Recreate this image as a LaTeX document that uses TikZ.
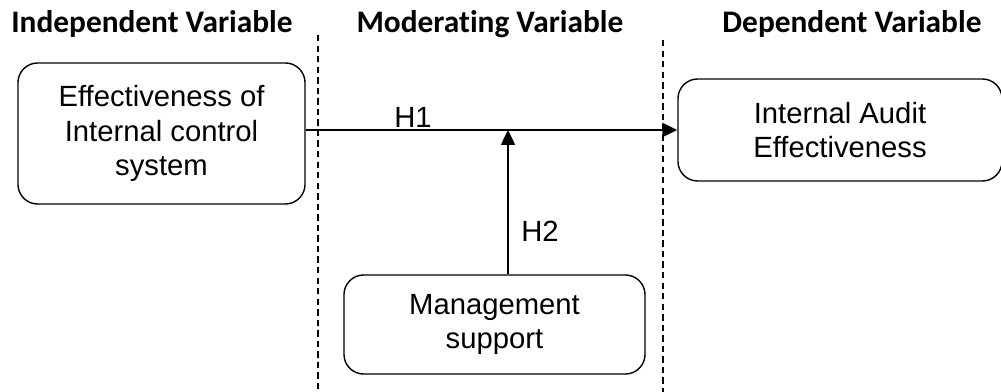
\documentclass[tikz,border=0pt]{standalone}
\usepackage{fontspec}
\setmainfont{Liberation Sans}
\newfontfamily\headfont[Ligatures=NoCommon]{Carlito}
\usetikzlibrary{arrows.meta}

\begin{document}
\begin{tikzpicture}[x=0.025cm,y=-0.025cm,
  varbox/.style={shape=rectangle,draw=black,line width=1pt,rounded corners=14pt,
    align=center,font=\fontsize{20.8}{24.8}\selectfont,inner sep=0pt},
  colhead/.style={anchor=base,font=\headfont\bfseries\fontsize{22.3}{26}\selectfont},
  hyp/.style={anchor=base,font=\fontsize{20.8}{24.8}\selectfont},
  divider/.style={line width=1.1pt,dash pattern=on 4.5pt off 3pt},
  link/.style={line width=1pt,-{Triangle[length=10.5pt,width=10pt]}}]
 \useasboundingbox (0,0) rectangle (1001,392);
 % column headings
 \node (head ind) at (152,33) [colhead] {Independent Variable};
 \node (head mod) at (490,33) [colhead] {Moderating Variable};
 \node (head dep) at (852,33) [colhead] {Dependent Variable};
 % column dividers
 \draw[divider] (318,35) -- (318,392);
 \draw[divider] (663,40) -- (663,392);
 % variables
 \node (ics) at (161.5,133.5) [varbox,minimum width=7.175cm,minimum height=3.525cm]
   {Effectiveness of\\Internal control\\system};
 \node (iae) at (840,130) [varbox,minimum width=8.1cm,minimum height=2.55cm]
   {Internal Audit\\Effectiveness};
 \node (mgmt) at (494.5,324.5) [varbox,minimum width=7.525cm,minimum height=2.475cm]
   {Management\\support};
 \coordinate (junction) at (508,130);
 % hypotheses
 \draw[link] (ics.east |- iae.west) -- (iae.west);
 \draw[link] (mgmt.north -| junction) -- (junction);
 \node (h1) at (413,128) [hyp] {H1};
 \node (h2) at (540,242) [hyp] {H2};
\end{tikzpicture}
\end{document}
